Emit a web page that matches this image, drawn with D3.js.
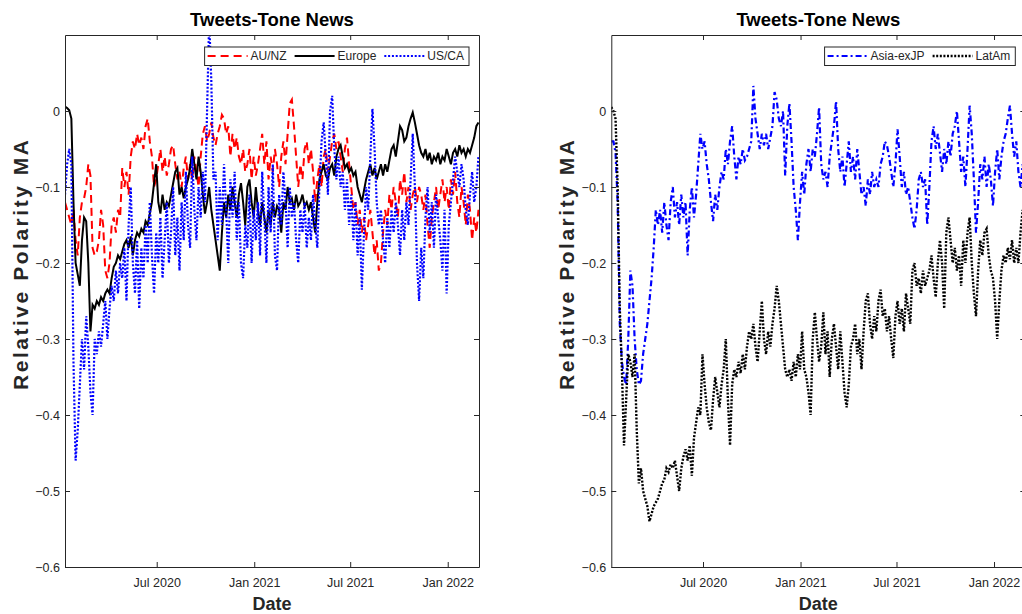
<!DOCTYPE html>
<html>
<head>
<meta charset="utf-8">
<script src="https://cdn.jsdelivr.net/npm/d3@7"></script>
<style>
  body { margin: 0; background: #fff; }
  svg { display: block; font-family: 'Liberation Sans', Arial, Helvetica, sans-serif; }
</style>
</head>
<body>
<div id="chart"></div>
<script>
// sampled every 4 days starting 10 Jan 2020
var startDate = new Date(2020, 0, 10);
var stepDays = 4;

var xTicks = [new Date(2020, 6, 1), new Date(2021, 0, 1), new Date(2021, 6, 1), new Date(2022, 0, 1)];
var yTicks = [-0.6, -0.5, -0.4, -0.3, -0.2, -0.1, 0];

var auNz = [
    -0.12, -0.13, -0.14, -0.15, -0.13, -0.17, -0.19, -0.14, -0.12, -0.115,
    -0.1, -0.07, -0.085, -0.18, -0.19, -0.185, -0.17, -0.13, -0.15, -0.21,
    -0.22, -0.2, -0.15, -0.14, -0.16, -0.13, -0.14, -0.075, -0.1, -0.08,
    -0.11, -0.06, -0.04, -0.05, -0.03, -0.045, -0.035, -0.05, -0.02, -0.01,
    -0.04, -0.06, -0.1, -0.09, -0.07, -0.05, -0.08, -0.06, -0.085, -0.07,
    -0.05, -0.045, -0.07, -0.09, -0.08, -0.1, -0.075, -0.06, -0.09, -0.07,
    -0.09, -0.06, -0.08, -0.1, -0.06, -0.03, -0.02, -0.04, -0.03, -0.015,
    -0.035, -0.045, -0.03, -0.02, -0.005, -0.01, -0.03, -0.02, -0.06, -0.03,
    -0.05, -0.035, -0.06, -0.07, -0.05, -0.08, -0.07, -0.05, -0.09, -0.06,
    -0.085, -0.07, -0.05, -0.03, -0.07, -0.04, -0.09, -0.06, -0.08, -0.05,
    -0.07, -0.1, -0.06, -0.04, -0.07, -0.03, 0.01, 0.015, -0.02, -0.06,
    -0.1, -0.07, -0.09, -0.05, -0.04, -0.07, -0.05, -0.08, -0.12, -0.09,
    -0.07, -0.1, -0.06, -0.05, -0.08, -0.06, -0.04, -0.03, -0.05, -0.04,
    -0.06, -0.08, -0.05, -0.035, -0.07, -0.1, -0.13, -0.12, -0.15, -0.13,
    -0.16, -0.14, -0.17, -0.15, -0.13, -0.16, -0.19, -0.17, -0.21, -0.2,
    -0.16, -0.13, -0.15, -0.11, -0.13, -0.1, -0.12, -0.14, -0.09, -0.11,
    -0.08, -0.12, -0.1, -0.13, -0.11, -0.1, -0.12, -0.1, -0.11, -0.13,
    -0.11, -0.15, -0.18, -0.14, -0.12, -0.1, -0.13, -0.11, -0.09, -0.12,
    -0.1, -0.13, -0.09, -0.11, -0.08, -0.12, -0.14, -0.1, -0.12, -0.15,
    -0.11, -0.13, -0.17, -0.14, -0.16, -0.13
];

var europe = [
    0.006, 0.004, 0.001, -0.01, -0.12, -0.2, -0.215, -0.23, -0.17, -0.14,
    -0.145, -0.2, -0.29, -0.255, -0.26, -0.25, -0.255, -0.245, -0.25, -0.24,
    -0.235, -0.24, -0.22, -0.205, -0.2, -0.19, -0.195, -0.185, -0.175, -0.17,
    -0.18, -0.165, -0.19, -0.17, -0.16, -0.165, -0.155, -0.16, -0.145, -0.15,
    -0.135, -0.12, -0.095, -0.07, -0.12, -0.135, -0.11, -0.13, -0.12, -0.125,
    -0.11, -0.095, -0.08, -0.075, -0.11, -0.1, -0.115, -0.1, -0.09, -0.075,
    -0.05, -0.07, -0.09, -0.06, -0.08, -0.11, -0.135, -0.12, -0.1, -0.13,
    -0.15, -0.17, -0.19, -0.21, -0.16, -0.12, -0.14, -0.11, -0.13, -0.1,
    -0.12, -0.14, -0.11, -0.095, -0.12, -0.15, -0.1, -0.09, -0.12, -0.14,
    -0.1, -0.13, -0.15, -0.12, -0.14, -0.16, -0.13, -0.15, -0.12, -0.14,
    -0.125, -0.13, -0.16, -0.12, -0.13, -0.1, -0.12, -0.115, -0.13, -0.11,
    -0.125, -0.12, -0.11, -0.125, -0.12, -0.13, -0.12, -0.14, -0.16, -0.12,
    -0.09, -0.08, -0.07, -0.085, -0.09, -0.075, -0.07, -0.085, -0.06, -0.05,
    -0.045, -0.06, -0.075, -0.07, -0.08, -0.075, -0.085, -0.08, -0.1, -0.11,
    -0.12, -0.105, -0.09, -0.08, -0.07, -0.085, -0.075, -0.09, -0.08, -0.07,
    -0.085, -0.07, -0.08, -0.065, -0.05, -0.045, -0.06, -0.04, -0.02, -0.025,
    -0.04, -0.035, -0.02, -0.01, -0.002, -0.015, -0.03, -0.045, -0.055, -0.06,
    -0.05, -0.065, -0.055, -0.07, -0.06, -0.065, -0.055, -0.07, -0.06, -0.065,
    -0.05, -0.06, -0.07, -0.055, -0.05, -0.06, -0.045, -0.055, -0.05, -0.06,
    -0.05, -0.055, -0.045, -0.035, -0.02, -0.015
];

var usCa = [
    -0.11, -0.07, -0.05, -0.07, -0.33, -0.46, -0.42, -0.36, -0.3, -0.34,
    -0.27, -0.31, -0.37, -0.4, -0.3, -0.32, -0.29, -0.31, -0.28, -0.25,
    -0.3, -0.26, -0.23, -0.25, -0.21, -0.24, -0.2, -0.22, -0.18, -0.25,
    -0.15, -0.1, -0.2, -0.24, -0.17, -0.26, -0.18, -0.22, -0.15, -0.2,
    -0.12, -0.19, -0.24, -0.16, -0.2, -0.14, -0.22, -0.17, -0.12, -0.2,
    -0.16, -0.1, -0.19, -0.14, -0.21, -0.12, -0.17, -0.08, -0.15, -0.18,
    -0.06, -0.13, -0.17, -0.1, -0.14, -0.08, -0.12, 0.0, 0.12, 0.04,
    -0.09, -0.08, -0.17, -0.1, -0.15, -0.07, -0.13, -0.2, -0.09, -0.14,
    -0.08, -0.17, -0.12, -0.2, -0.22, -0.15, -0.18, -0.11, -0.2, -0.13,
    -0.17, -0.12, -0.19, -0.08, -0.14, -0.2, -0.1, -0.16, -0.07, -0.19,
    -0.21, -0.11, -0.15, -0.08, -0.12, -0.18, -0.1, -0.14, -0.12, -0.17,
    -0.2, -0.13, -0.16, -0.12, -0.18, -0.14, -0.17, -0.11, -0.15, -0.18,
    -0.1, -0.04, -0.015, -0.06, -0.11, 0.0, 0.02, -0.05, -0.09, -0.06,
    -0.1, -0.08, -0.13, -0.09, -0.15, -0.11, -0.17, -0.12, -0.19, -0.14,
    -0.235, -0.16, -0.1, -0.13, -0.06, 0.003, -0.05, -0.12, -0.15, -0.13,
    -0.17, -0.2, -0.14, -0.18, -0.13, -0.16, -0.12, -0.15, -0.19, -0.13,
    -0.17, -0.12, -0.15, -0.09, -0.03, -0.1, -0.2, -0.25, -0.18, -0.22,
    -0.14, -0.1, -0.16, -0.12, -0.18, -0.11, -0.14, -0.17, -0.21, -0.13,
    -0.24, -0.15, -0.12, -0.09, -0.06, -0.08, -0.1, -0.07, -0.09, -0.13,
    -0.15, -0.11, -0.08, -0.12, -0.1, -0.06
];

var asiaExJp = [
    -0.04, -0.04, -0.055, -0.12, -0.28, -0.33, -0.35, -0.36, -0.3, -0.21,
    -0.23, -0.3, -0.34, -0.36, -0.355, -0.32, -0.3, -0.28, -0.25, -0.22,
    -0.18, -0.13, -0.15, -0.13, -0.16, -0.12, -0.15, -0.17, -0.12, -0.1,
    -0.14, -0.12, -0.15, -0.11, -0.14, -0.12, -0.19, -0.13, -0.1, -0.14,
    -0.11, -0.07, -0.03, -0.05, -0.04, -0.07, -0.09, -0.12, -0.145, -0.11,
    -0.13, -0.1, -0.08, -0.09, -0.05, -0.07, -0.04, -0.02, -0.06, -0.09,
    -0.06, -0.07, -0.05, -0.065, -0.06, -0.05, -0.04, 0.033, -0.01, -0.03,
    -0.05, -0.03, -0.045, -0.03, -0.05, -0.035, -0.02, 0.025, 0.015, -0.01,
    -0.02, 0.0, -0.085, -0.02, 0.01, -0.04, -0.1, -0.13, -0.17, -0.12,
    -0.08, -0.11, -0.07, -0.05, -0.08, -0.05, -0.06, -0.03, 0.005, -0.07,
    -0.09, -0.08, -0.1, -0.06, -0.04, -0.02, 0.013, -0.05, -0.08, -0.06,
    -0.1, -0.07, -0.04, -0.08, -0.06, -0.09, -0.05, -0.08, -0.11, -0.1,
    -0.125, -0.09, -0.11, -0.08, -0.1, -0.09, -0.1, -0.07, -0.06, -0.04,
    -0.045, -0.06, -0.08, -0.1, -0.07, -0.024, -0.06, -0.1, -0.08, -0.11,
    -0.1, -0.12, -0.14, -0.155, -0.13, -0.09, -0.08, -0.1, -0.09, -0.15,
    -0.1, -0.04, -0.02, -0.05, -0.03, -0.055, -0.08, -0.05, -0.07, -0.04,
    -0.06, -0.03, -0.02, 0.0, -0.04, -0.08, -0.06, -0.1, -0.05, 0.007,
    -0.03, -0.09, -0.16, -0.12, -0.07, -0.09, -0.06, -0.1, -0.07, -0.09,
    -0.125, -0.08, -0.05, -0.09, -0.06, -0.04, -0.03, -0.01, 0.007, -0.03,
    -0.06, -0.04, -0.08, -0.1, -0.07, -0.09
];

var latAm = [
    0.005, 0.0, -0.01, -0.1, -0.26, -0.34, -0.44, -0.38, -0.32, -0.33,
    -0.35, -0.32, -0.42, -0.49, -0.47, -0.5, -0.51, -0.52, -0.54, -0.53,
    -0.52, -0.515, -0.51, -0.5, -0.49, -0.485, -0.47, -0.475, -0.465, -0.47,
    -0.46, -0.48, -0.5, -0.47, -0.455, -0.445, -0.46, -0.44, -0.48, -0.43,
    -0.41, -0.39, -0.4, -0.32, -0.36, -0.39, -0.41, -0.42, -0.38, -0.35,
    -0.37, -0.39, -0.36, -0.34, -0.3, -0.38, -0.44, -0.36, -0.34, -0.35,
    -0.33, -0.345, -0.32, -0.34, -0.31, -0.29, -0.3, -0.28, -0.31, -0.33,
    -0.29, -0.25, -0.3, -0.32, -0.29, -0.31, -0.28, -0.26, -0.23, -0.25,
    -0.28, -0.31, -0.34, -0.35, -0.34, -0.355, -0.33, -0.35, -0.32, -0.34,
    -0.29, -0.34, -0.35, -0.37, -0.4, -0.3, -0.265, -0.3, -0.33, -0.31,
    -0.265, -0.32, -0.29, -0.35, -0.3, -0.28, -0.31, -0.34, -0.29, -0.33,
    -0.37, -0.39, -0.36, -0.31, -0.3, -0.28, -0.32, -0.3, -0.34, -0.29,
    -0.25, -0.24, -0.28, -0.3, -0.27, -0.29, -0.25, -0.235, -0.27, -0.26,
    -0.29, -0.27, -0.3, -0.325, -0.27, -0.25, -0.28, -0.26, -0.29, -0.24,
    -0.26, -0.28, -0.21, -0.2, -0.23, -0.22, -0.24, -0.21, -0.23, -0.22,
    -0.21, -0.19, -0.22, -0.245, -0.2, -0.17, -0.2, -0.26, -0.16, -0.14,
    -0.17, -0.2, -0.18, -0.21, -0.19, -0.23, -0.17, -0.2, -0.16, -0.14,
    -0.2, -0.24, -0.27, -0.21, -0.17, -0.19, -0.16, -0.155, -0.19, -0.21,
    -0.22, -0.25, -0.3, -0.25, -0.21, -0.19, -0.2, -0.18, -0.195, -0.17,
    -0.2, -0.18, -0.2, -0.16, -0.13, -0.15
];

var dates = auNz.map(function(d, i) { return d3.timeDay.offset(startDate, i * stepDays); });

var panels = [
    {
        left: 65,
        title: 'Tweets-Tone News',
        series: [
            { name: 'AU/NZ', values: auNz, color: '#ff0000', dash: '8,5', width: 2 },
            { name: 'Europe', values: europe, color: '#000000', dash: null, width: 2 },
            { name: 'US/CA', values: usCa, color: '#0000ff', dash: '2,1.8', width: 2.2 }
        ]
    },
    {
        left: 611.3,
        title: 'Tweets-Tone News',
        series: [
            { name: 'Asia-exJP', values: asiaExJp, color: '#0000ff', dash: '6,3,2,3', width: 2.2 },
            { name: 'LatAm', values: latAm, color: '#000000', dash: '2,1.6', width: 2.4 }
        ]
    }
];

var W = 1022, H = 614;
var margin = {top: 35, bottom: 47};
var plotW = 414;
var plotH = H - margin.top - margin.bottom;
var axisColor = '#262626';

var svg = d3.select('#chart')
    .append('svg')
    .attr('width', W)
    .attr('height', H);

var x = d3.scaleTime()
    .domain([new Date(2020, 0, 10), new Date(2022, 2, 1)])
    .range([0, plotW]);

var y = d3.scaleLinear()
    .domain([-0.6, 0.1])
    .range([plotH, 0]);

var yFormat = function(d) { return d === 0 ? '0' : d3.format('.1f')(d); };

panels.forEach(function(p, pi) {
    var g = svg.append('g')
        .attr('transform', 'translate(' + p.left + ',' + margin.top + ')');

    g.append('rect')
        .attr('width', plotW)
        .attr('height', plotH)
        .attr('fill', '#fff');

    var clipId = 'clip' + pi;
    g.append('clipPath')
        .attr('id', clipId)
      .append('rect')
        .attr('width', plotW)
        .attr('height', plotH);

    // lines
    var line = d3.line()
        .x(function(d, i) { return x(dates[i]); })
        .y(function(d) { return y(d); });

    g.append('g')
        .attr('clip-path', 'url(#' + clipId + ')')
        .selectAll('path')
        .data(p.series)
        .enter().append('path')
        .attr('fill', 'none')
        .attr('stroke', function(s) { return s.color; })
        .attr('stroke-width', function(s) { return s.width; })
        .attr('stroke-dasharray', function(s) { return s.dash; })
        .attr('d', function(s) { return line(s.values); });

    // axes, ticks inward on all four sides
    var ax = g.append('g').attr('class', 'axes');

    ax.append('g')
        .attr('transform', 'translate(0,' + plotH + ')')
        .call(d3.axisBottom(x).tickValues(xTicks).tickSizeInner(-5).tickSizeOuter(0)
            .tickPadding(11).tickFormat(d3.timeFormat('%b %Y')));
    ax.append('g')
        .call(d3.axisTop(x).tickValues(xTicks).tickSizeInner(-5).tickSizeOuter(0).tickFormat(''));
    ax.append('g')
        .call(d3.axisLeft(y).tickValues(yTicks).tickSizeInner(-5).tickSizeOuter(0)
            .tickPadding(5).tickFormat(yFormat));
    ax.append('g')
        .attr('transform', 'translate(' + plotW + ',0)')
        .call(d3.axisRight(y).tickValues(yTicks).tickSizeInner(-5).tickSizeOuter(0).tickFormat(''));

    ax.selectAll('.domain, .tick line')
        .attr('stroke', axisColor)
        .attr('stroke-width', 1);
    ax.selectAll('.tick text')
        .attr('fill', axisColor)
        .style('font-size', '12.5px')
        .style('font-family', "'Liberation Sans', Arial, sans-serif");

    // title and labels
    g.append('text')
        .attr('x', plotW / 2)
        .attr('y', -9)
        .attr('text-anchor', 'middle')
        .style('font-weight', 'bold')
        .style('font-size', '18.5px')
        .attr('fill', '#000')
        .text(p.title);

    g.append('text')
        .attr('x', plotW / 2)
        .attr('y', plotH + 43)
        .attr('text-anchor', 'middle')
        .style('font-weight', 'bold')
        .style('font-size', '18px')
        .attr('fill', axisColor)
        .text('Date');

    // rotated label runs from about -0.37 up past -0.05
    g.append('text')
        .attr('transform', 'translate(-37,' + (plotH / 2 + 89) + ') rotate(-90)')
        .attr('textLength', 250)
        .attr('lengthAdjust', 'spacing')
        .style('font-weight', 'bold')
        .style('font-size', '21px')
        .attr('fill', axisColor)
        .text('Relative Polarity MA');

    // legend, anchored to the top-right corner
    var lg = g.append('g');
    var box = lg.append('rect')
        .attr('fill', '#fff')
        .attr('stroke', axisColor)
        .attr('stroke-width', 1);

    var cx = 3;
    p.series.forEach(function(s) {
        lg.append('line')
            .attr('x1', cx).attr('x2', cx + 40)
            .attr('y1', 9).attr('y2', 9)
            .attr('stroke', s.color)
            .attr('stroke-width', s.width)
            .attr('stroke-dasharray', s.dash);
        var t = lg.append('text')
            .attr('x', cx + 43)
            .attr('y', 13.3)
            .style('font-size', '12px')
            .attr('fill', axisColor)
            .text(s.name);
        cx += 43 + t.node().getComputedTextLength() + 8;
    });
    var boxW = cx - 3;
    box.attr('width', boxW).attr('height', 18.5);
    lg.attr('transform', 'translate(' + (plotW - 10 - boxW) + ',' + 12 + ')');
});
</script>
</body>
</html>
